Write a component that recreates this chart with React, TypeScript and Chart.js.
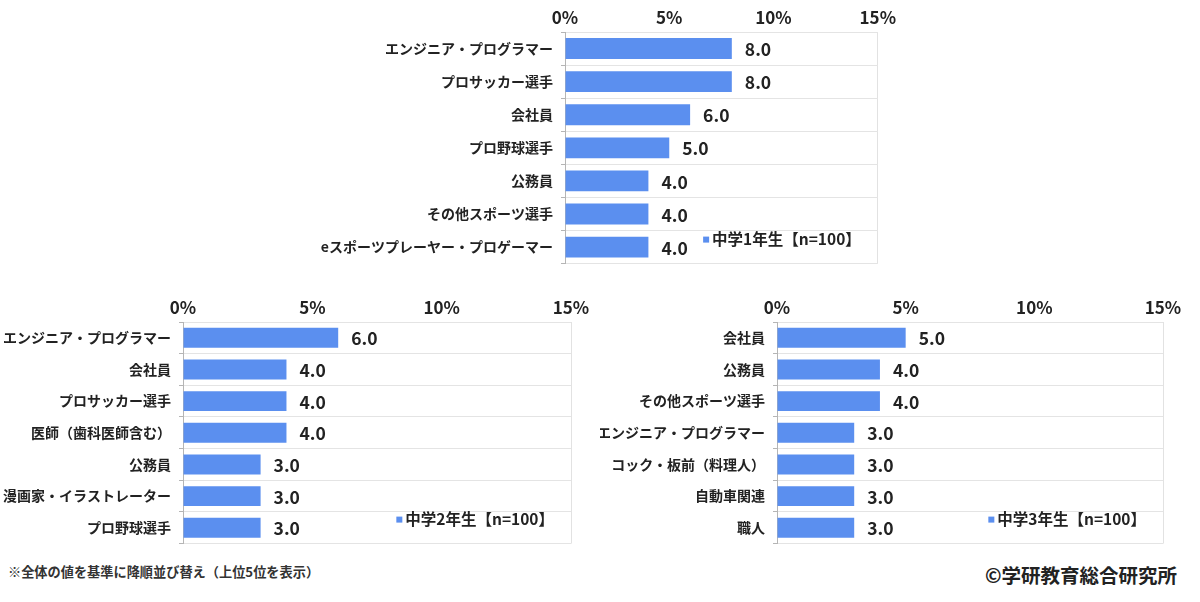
import React, { useEffect, useRef } from "react";
import { Chart, registerables } from "chart.js";

Chart.register(...registerables);

const FONT = '"Noto Sans CJK JP", "Noto Sans", sans-serif';
const BAR_COLOR = "#5B8FEF";
const TEXT_COLOR = "#222222";

const xTickValues = [0, 5, 10, 15];
const xTickSuffix = "%";

const g1Labels = [
  "エンジニア・プログラマー",
  "プロサッカー選手",
  "会社員",
  "プロ野球選手",
  "公務員",
  "その他スポーツ選手",
  "eスポーツプレーヤー・プロゲーマー",
];
const g1Values = [8.0, 8.0, 6.0, 5.0, 4.0, 4.0, 4.0];
const g1Legend = "中学1年生【n=100】";

const g2Labels = [
  "エンジニア・プログラマー",
  "会社員",
  "プロサッカー選手",
  "医師（歯科医師含む）",
  "公務員",
  "漫画家・イラストレーター",
  "プロ野球選手",
];
const g2Values = [6.0, 4.0, 4.0, 4.0, 3.0, 3.0, 3.0];
const g2Legend = "中学2年生【n=100】";

const g3Labels = [
  "会社員",
  "公務員",
  "その他スポーツ選手",
  "エンジニア・プログラマー",
  "コック・板前（料理人）",
  "自動車関連",
  "職人",
];
const g3Values = [5.0, 4.0, 4.0, 3.0, 3.0, 3.0, 3.0];
const g3Legend = "中学3年生【n=100】";

const footnote = "※全体の値を基準に降順並び替え（上位5位を表示）";
const copyright = "©学研教育総合研究所";

const overlayPlugin = {
  id: "overlay",
  afterDatasetsDraw(chart: any) {
    const ctx = chart.ctx;
    const meta = chart.getDatasetMeta(0);
    const ds = chart.data.datasets[0];
    ctx.save();
    ctx.font = `bold 17.5px ${FONT}`;
    ctx.fillStyle = TEXT_COLOR;
    ctx.textBaseline = "middle";
    ctx.textAlign = "left";
    meta.data.forEach((bar: any, i: number) => {
      const v = ds.data[i] as number;
      ctx.fillText(v.toFixed(1), bar.x + 13, bar.y + 1);
    });
    const { right, bottom } = chart.chartArea;
    ctx.font = `bold 15.5px ${FONT}`;
    ctx.textAlign = "right";
    const label = ds.label as string;
    const tw = ctx.measureText(label).width;
    const lx = right - 17;
    const ly = bottom - 24;
    ctx.fillText(label, lx, ly);
    ctx.fillStyle = BAR_COLOR;
    ctx.fillRect(lx - tw - 9, ly - 3, 6, 6);
    ctx.restore();
  },
};

type Props = {
  labels: string[];
  values: number[];
  legend: string;
  left: number;
  top: number;
  width: number;
  height: number;
  yWidth: number;
  xHeight: number;
  padRight: number;
  padBottom: number;
};

function BarPanel(p: Props) {
  const ref = useRef<HTMLCanvasElement | null>(null);
  useEffect(() => {
    if (!ref.current) return;
    const chart = new Chart(ref.current, {
      type: "bar",
      data: {
        labels: p.labels,
        datasets: [
          {
            label: p.legend,
            data: p.values,
            backgroundColor: BAR_COLOR,
            barPercentage: 0.63,
            categoryPercentage: 1,
          },
        ],
      },
      options: {
        indexAxis: "y",
        animation: false,
        responsive: false,
        maintainAspectRatio: false,
        layout: { padding: { left: 0, top: 0, right: p.padRight, bottom: p.padBottom } },
        plugins: { legend: { display: false }, tooltip: { enabled: false } },
        scales: {
          x: {
            position: "top",
            min: 0,
            max: 15,
            afterBuildTicks: (scale: any) => {
              scale.ticks = xTickValues.map((v) => ({ value: v }));
            },
            afterFit: (scale: any) => {
              scale.height = p.xHeight;
            },
            ticks: {
              color: TEXT_COLOR,
              font: { family: FONT, size: 17, weight: "600" },
              padding: 4,
              callback: (v: any) => `${v}${xTickSuffix}`,
            },
            grid: {
              drawTicks: false,
              color: (c: any) => (c.tick && c.tick.value === 15 ? "#e2e2e2" : "rgba(0,0,0,0)"),
            },
            border: { display: false },
          },
          y: {
            afterFit: (scale: any) => {
              scale.width = p.yWidth;
            },
            ticks: {
              color: TEXT_COLOR,
              font: { family: FONT, size: 14, weight: "bold" },
              padding: 8,
              autoSkip: false,
            },
            grid: {
              offset: true,
              color: "#e4e4e4",
              tickColor: "#b5b5b5",
              tickLength: 4,
            },
            border: { display: true, color: "#b5b5b5" },
          },
        },
      } as any,
      plugins: [overlayPlugin],
    });
    return () => chart.destroy();
  }, []);
  return (
    <div style={{ position: "absolute", left: p.left, top: p.top, width: p.width, height: p.height }}>
      <canvas ref={ref} width={p.width} height={p.height} style={{ width: p.width, height: p.height, display: "block" }} />
    </div>
  );
}

export default function App() {
  return (
    <div
      style={{
        position: "absolute",
        left: 0,
        top: 0,
        width: 1200,
        height: 602,
        background: "#ffffff",
        overflow: "hidden",
        fontFamily: FONT,
      }}
    >
      <BarPanel
        labels={g1Labels}
        values={g1Values}
        legend={g1Legend}
        left={300}
        top={0}
        width={600}
        height={280}
        yWidth={265}
        xHeight={32}
        padRight={18}
        padBottom={13.5}
      />
      <BarPanel
        labels={g2Labels}
        values={g2Values}
        legend={g2Legend}
        left={0}
        top={290}
        width={600}
        height={270}
        yWidth={183}
        xHeight={32}
        padRight={29}
        padBottom={11}
      />
      <BarPanel
        labels={g3Labels}
        values={g3Values}
        legend={g3Legend}
        left={600}
        top={290}
        width={600}
        height={270}
        yWidth={177}
        xHeight={32}
        padRight={37}
        padBottom={11}
      />
      <div
        style={{
          position: "absolute",
          left: 8,
          top: 563,
          fontSize: 13.2,
          fontWeight: "bold",
          color: "#333",
          whiteSpace: "nowrap",
          lineHeight: "18px",
        }}
      >
        {footnote}
      </div>
      <div
        style={{
          position: "absolute",
          right: 23,
          top: 563,
          fontSize: 19.5,
          fontWeight: "bold",
          color: "#222",
          whiteSpace: "nowrap",
          lineHeight: "24px",
        }}
      >
        {copyright}
      </div>
    </div>
  );
}
